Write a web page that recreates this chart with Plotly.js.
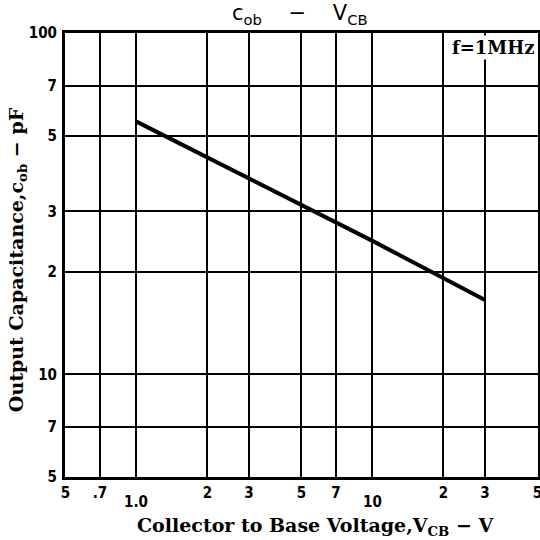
<!DOCTYPE html>
<html><head><meta charset="utf-8">
<script src="https://cdn.plot.ly/plotly-3.0.1.min.js"></script>
<style>html,body{margin:0;padding:0;background:#fff}#chart{width:540px;height:540px}</style>
</head><body><div id="chart"></div>
<script>
const vcb = [1, 3, 10, 30];
const cob = [55, 37.5, 24.6, 16.5];
const xTickVals = [0.5, 0.7, 1, 2, 3, 5, 7, 10, 20, 30, 50];
const xTickText = ['5', '.7', '', '2', '3', '5', '7', '', '2', '3', '5'];
const xDecadeVals = [1, 10];
const xDecadeText = ['1.0', '10'];
const yTickVals = [5, 7, 10, 20, 30, 50, 70, 100];
const yTickText = ['5', '7', '10', '2', '3', '5', '7', '100'];

const tickFont = {family: 'DejaVu Sans Condensed', size: 15, color: '#000', weight: 'bold'};
const serifFont = {family: 'DejaVu Serif', size: 19, color: '#000', weight: 'bold'};
const xRange = [Math.log10(0.498), Math.log10(50.3)];

const trace = {x: vcb, y: cob, type: 'scatter', mode: 'lines',
  line: {color: '#000', width: 4}, hoverinfo: 'skip'};

const decadeLabels = xDecadeVals.map((v, i) => ({
  text: xDecadeText[i], xref: 'x', yref: 'paper', x: Math.log10(v), y: -0.056,
  xanchor: 'center', yanchor: 'middle', showarrow: false, font: tickFont, borderpad: 0
}));

const layout = {
  width: 540, height: 540,
  margin: {l: 65, r: 2, t: 33, b: 63},
  paper_bgcolor: '#fff', plot_bgcolor: '#fff',
  showlegend: false,
  title: {text: 'c<sub>ob</sub>    −    V<sub>CB</sub>', x: 0.555, xanchor: 'center', y: 0.99, yanchor: 'top',
    font: {family: 'DejaVu Sans', size: 21, color: '#000'}},
  xaxis: {type: 'log', range: xRange,
    tickvals: xTickVals, ticktext: xTickText, ticks: '', tickfont: tickFont,
    ticklabeloverflow: 'allow',
    showgrid: true, gridcolor: '#000', gridwidth: 2,
    showline: true, linecolor: '#000', linewidth: 3, mirror: true,
    zeroline: false, ticklabelstandoff: 0,
    title: {text: ''}},
  yaxis: {type: 'log', range: [Math.log10(5), 2],
    tickvals: yTickVals, ticktext: yTickText, ticks: '', tickfont: tickFont,
    showgrid: true, gridcolor: '#000', gridwidth: 2,
    showline: true, linecolor: '#000', linewidth: 3, mirror: true,
    zeroline: false, ticklabelstandoff: 2,
    title: {text: ''}},
  annotations: decadeLabels.concat([
    {text: 'Collector to Base Voltage,V<sub>CB</sub> − V', xref: 'paper', yref: 'paper',
      x: 0.53, y: -0.141, xanchor: 'center', yanchor: 'bottom', borderpad: 0,
      showarrow: false, font: serifFont},
    {text: 'Output Capacitance,c<sub>ob</sub> − pF', xref: 'paper', yref: 'paper',
      x: -0.1, y: 0.49, xanchor: 'center', yanchor: 'middle', textangle: -90,
      showarrow: false, font: serifFont},
    {text: 'f=1MHz', xref: 'paper', yref: 'paper', x: 0.998, y: 0.995,
      xanchor: 'right', yanchor: 'top', showarrow: false, bgcolor: '#fff',
      borderpad: 1, font: {family: 'DejaVu Serif', size: 18, color: '#000', weight: 'bold'}}
  ])
};
Plotly.newPlot('chart', [trace], layout, {staticPlot: true, displayModeBar: false});
</script></body></html>
